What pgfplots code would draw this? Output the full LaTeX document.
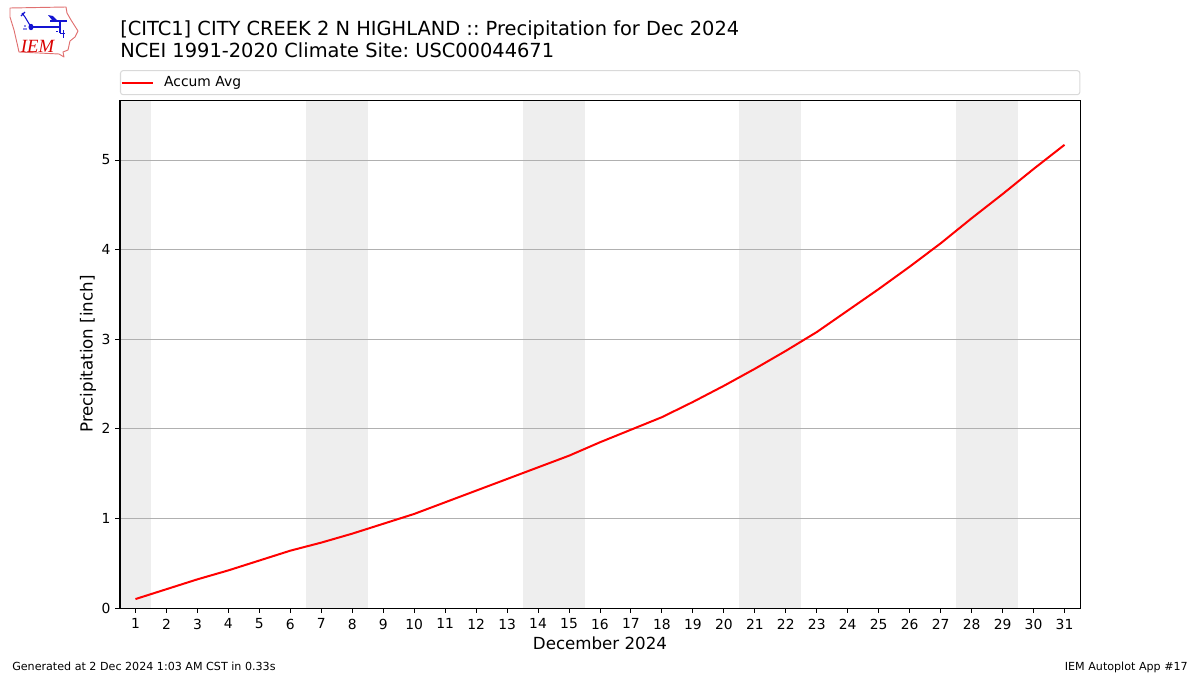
\documentclass[border=0pt]{standalone}
\usepackage{pgfplots}
\pgfplotsset{compat=1.18}
\usepackage{fontspec}
\setmainfont{DejaVu Sans}
\newfontfamily\iemfont{Liberation Serif}
\frenchspacing
\definecolor{band}{HTML}{EEEEEE}
\definecolor{gridc}{HTML}{B0B0B0}
\definecolor{logored}{HTML}{E07070}
\definecolor{logoblue}{HTML}{1414D2}
\pgfplotstableread{
day val
1 0.10
2 0.21
3 0.32
4 0.42
5 0.53
6 0.64
7 0.73
8 0.83
9 0.94
10 1.05
11 1.18
12 1.31
13 1.44
14 1.57
15 1.70
16 1.85
17 1.99
18 2.13
19 2.30
20 2.48
21 2.67
22 2.87
23 3.08
24 3.32
25 3.56
26 3.81
27 4.07
28 4.35
29 4.62
30 4.90
31 5.17
}\accum
\begin{document}
\begin{tikzpicture}
\path[use as bounding box] (0,0) rectangle (900pt,-506.25pt);
\begin{scope}[x=0.75pt,y=-0.75pt]
% logo
\draw[logored,line width=0.7pt,line join=round] (10,8) -- (66,7) -- (67,13) -- (71,20) -- (78,31) -- (75,37) -- (70,41) -- (68,50) -- (63,52) -- (64,57) -- (59,54) -- (19,52) -- (17,43) -- (14,30) -- (10,17) -- cycle;
\draw[logoblue,line width=1.1pt] (31,27) -- (60,27);
\draw[logoblue,line width=1pt] (60,20) -- (60,33);
\draw[logoblue,line width=0.8pt] (31,27) -- (25,17) (22,13) -- (25,17) (21,16) -- (25,12);
\draw[logoblue,line width=0.8pt] (50,21) -- (67,21);
\fill[logoblue] (48,15) -- (53,16) -- (58,21) -- (52,20) -- cycle;
\fill[logoblue] (31,27) ellipse[x radius=2.5,y radius=3.2];
\draw[logoblue,line width=0.7pt] (63,30) -- (63,38) (56,31) -- (58,31) (60,33) -- (65,33);
\fill[logoblue] (24,29) circle[radius=0.8] (26,29) circle[radius=0.8] (25,26) circle[radius=0.8];
\node[anchor=center,inner sep=0pt,text=red!85!black] at (37.5,46) {\iemfont\itshape\fontsize{14pt}{14pt}\selectfont IEM};
% titles
\node[anchor=base west,inner sep=0pt,font=\fontsize{14.56pt}{17pt}\selectfont] at (120,35) {[CITC1] CITY CREEK 2 N HIGHLAND :: Precipitation for Dec 2024};
\node[anchor=base west,inner sep=0pt,font=\fontsize{14.56pt}{17pt}\selectfont] at (120,57) {NCEI 1991-2020 Climate Site: USC00044671};
% footers
\node[anchor=base west,inner sep=0pt,font=\fontsize{8.34pt}{9pt}\selectfont] at (12,670) {Generated at 2 Dec 2024 1:03 AM CST in 0.33s};
\node[anchor=base east,inner sep=0pt,font=\fontsize{8.34pt}{9pt}\selectfont] at (1188,670) {IEM Autoplot App \#17};
\end{scope}
\begin{axis}[
  at={(90pt,-456pt)}, anchor=south west,
  scale only axis, width=720pt, height=381pt,
  xmin=0.5, xmax=31.5, ymin=0, ymax=5.67,
  xtick={1,...,31}, ytick={0,1,2,3,4,5},
  axis on top,
  axis line style={black,line width=0.75pt},
  tick style={black,line width=0.75pt},
  tick align=outside, major tick length=3.6pt,
  xtick pos=lower, ytick pos=left,
  /pgf/number format/assume math mode=true,
  ticklabel style={font=\fontsize{10.4pt}{12pt}\selectfont},
  xticklabel style={yshift=-1pt},
  xlabel={December 2024}, ylabel={Precipitation [inch]},
  label style={font=\fontsize{12.5pt}{14pt}\selectfont},
  xlabel style={at={(axis description cs:0.5,0)},anchor=base,yshift=-31pt},
  ylabel style={at={(axis description cs:0,0.5)},anchor=base,yshift=20.6pt},
  legend style={at={(axis description cs:0,1)},anchor=south west,yshift=3.6pt,
    draw=black!15,line width=0.75pt,rounded corners=2pt,font=\fontsize{10.4pt}{12pt}\selectfont,
    inner xsep=0pt,inner ysep=0pt,
    nodes={inner xsep=0pt,inner ysep=4.5pt}},
  legend cell align=left,
  legend image code/.code={\draw[red,line width=1.5pt] (6.75pt,0) -- (30pt,0);},
]
\addlegendimage{red,line width=1.5pt}
\addlegendentry{\hspace*{8pt}\makebox[686.75pt][l]{Accum Avg}}
\addplot[fill=band,draw=none,forget plot] coordinates {(0.5,0)(1.5,0)(1.5,5.67)(0.5,5.67)} -- cycle;
\addplot[fill=band,draw=none,forget plot] coordinates {(6.5,0)(8.5,0)(8.5,5.67)(6.5,5.67)} -- cycle;
\addplot[fill=band,draw=none,forget plot] coordinates {(13.5,0)(15.5,0)(15.5,5.67)(13.5,5.67)} -- cycle;
\addplot[fill=band,draw=none,forget plot] coordinates {(20.5,0)(22.5,0)(22.5,5.67)(20.5,5.67)} -- cycle;
\addplot[fill=band,draw=none,forget plot] coordinates {(27.5,0)(29.5,0)(29.5,5.67)(27.5,5.67)} -- cycle;
\addplot[gridc,line width=0.75pt,forget plot] coordinates {(0.5,1)(31.5,1)};
\addplot[gridc,line width=0.75pt,forget plot] coordinates {(0.5,2)(31.5,2)};
\addplot[gridc,line width=0.75pt,forget plot] coordinates {(0.5,3)(31.5,3)};
\addplot[gridc,line width=0.75pt,forget plot] coordinates {(0.5,4)(31.5,4)};
\addplot[gridc,line width=0.75pt,forget plot] coordinates {(0.5,5)(31.5,5)};
\addplot[red,line width=1.5pt,forget plot] table[x=day,y=val] {\accum};
\end{axis}
\end{tikzpicture}
\end{document}
